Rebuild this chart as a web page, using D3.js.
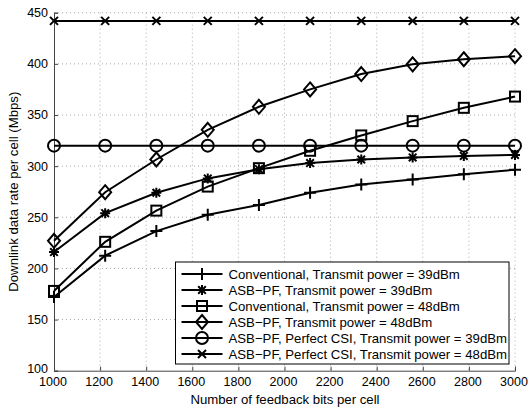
<!DOCTYPE html>
<html><head><meta charset="utf-8">
<script src="https://cdn.jsdelivr.net/npm/d3@7"></script>
<style>body{margin:0;background:#fff;} text{font-family:"Liberation Sans",Arial,sans-serif;}</style>
</head><body><svg id="c" width="529" height="408"></svg>
<script>
const xValues = [1000, 1222, 1444, 1667, 1889, 2111, 2333, 2556, 2778, 3000];
const conv39 = [172, 212.5, 236.5, 252.5, 262, 274, 282, 287, 292, 296.5];
const asb39 = [216, 254, 274, 288, 297, 303, 306.5, 308.5, 310, 311];
const conv48 = [178, 226, 256.5, 280, 298, 315, 330, 344, 357, 368];
const asb48 = [227, 274.5, 306.5, 335.5, 358, 375, 390, 399.5, 404.5, 407.5];
const perf39 = [320, 320, 320, 320, 320, 320, 320, 320, 320, 320];
const perf48 = [442, 442, 442, 442, 442, 442, 442, 442, 442, 442];
const seriesNames = [
  "Conventional, Transmit power = 39dBm",
  "ASB\u2212PF, Transmit power = 39dBm",
  "Conventional, Transmit power = 48dBm",
  "ASB\u2212PF, Transmit power = 48dBm",
  "ASB\u2212PF, Perfect CSI, Transmit power = 39dBm",
  "ASB\u2212PF, Perfect CSI, Transmit power = 48dBm"
];
const markerTypes = ["plus", "star", "square", "diamond", "circle", "cross"];
const xTicks = [1000, 1200, 1400, 1600, 1800, 2000, 2200, 2400, 2600, 2800, 3000];
const yTicks = [100, 150, 200, 250, 300, 350, 400, 450];
const xLabel = "Number of feedback bits per cell";
const yLabel = "Downlink data rate per cell (Mbps)";

const seriesValues = [conv39, asb39, conv48, asb48, perf39, perf48];
const L = 54, R = 515, T = 12.7, B = 370.7;
const svg = d3.select("#c");
const x = d3.scaleLinear().domain([1000, 3000]).range([L, R]);
const y = d3.scaleLinear().domain([100, 450]).range([B, T]);

// grid
const g = svg.append("g");
g.selectAll(".gx").data(xTicks.slice(1)).join("line")
  .attr("x1", d => x(d)).attr("x2", d => x(d)).attr("y1", T).attr("y2", B)
  .attr("stroke", "#aaa").attr("stroke-width", 1).attr("stroke-dasharray", "1,3");
g.selectAll(".gy").data(yTicks.slice(1)).join("line")
  .attr("x1", L).attr("x2", R).attr("y1", d => y(d)).attr("y2", d => y(d))
  .attr("stroke", "#aaa").attr("stroke-width", 1).attr("stroke-dasharray", "1,3");

// axes
const xAxis = svg.append("g").attr("transform", `translate(0,${B})`)
  .call(d3.axisBottom(x).tickValues(xTicks).tickSize(-4).tickPadding(6).tickFormat(d3.format("d")));
const yAxis = svg.append("g").attr("transform", `translate(${L},0)`)
  .call(d3.axisLeft(y).tickValues(yTicks).tickSize(-4).tickPadding(6).tickFormat(d3.format("d")));
[xAxis, yAxis].forEach(a => {
  a.select(".domain").attr("stroke", "#444").attr("stroke-width", 1);
  a.selectAll(".tick line").attr("stroke", "#444");
  a.selectAll("text").attr("font-size", 12.5).attr("fill", "#000")
    .style("font-family", '"Liberation Sans",Arial,sans-serif');
});
xAxis.selectAll("text").attr("dx", -1.5);
yAxis.selectAll(".tick text").filter(d => d === 100).attr("dy", "0.16em");

function marker(sel, type) {
  const s = 5;
  if (type === "plus") {
    sel.append("path").attr("d", `M${-6},0H6M0,${-6}V6`);
  } else if (type === "star") {
    sel.append("path").attr("d", `M-5,0H5M0,-5V5M-3.8,-3.8L3.8,3.8M-3.8,3.8L3.8,-3.8`);
  } else if (type === "square") {
    sel.append("rect").attr("x", -s).attr("y", -s).attr("width", 2 * s).attr("height", 2 * s);
  } else if (type === "diamond") {
    sel.append("path").attr("d", "M0,-7L6,0L0,7L-6,0Z");
  } else if (type === "circle") {
    sel.append("circle").attr("r", 6);
  } else if (type === "cross") {
    sel.append("path").attr("d", "M-4,-4L4,4M-4,4L4,-4");
  }
}

const line = d3.line().x((d, i) => x(xValues[i])).y(d => y(d));
seriesValues.forEach((vals, k) => {
  svg.append("path").datum(vals).attr("d", line)
    .attr("fill", "none").attr("stroke", "#000").attr("stroke-width", 2);
  vals.forEach((v, i) => {
    const m = svg.append("g").attr("transform", `translate(${x(xValues[i])},${y(v)})`)
      .attr("fill", "none").attr("stroke", "#000").attr("stroke-width", 2);
    marker(m, markerTypes[k]);
  });
});

// legend
const lg = svg.append("g");
lg.append("rect").attr("x", 175.5).attr("y", 262).attr("width", 333.5).attr("height", 102)
  .attr("fill", "#fff").attr("stroke", "#000").attr("stroke-width", 1);
seriesNames.forEach((name, k) => {
  const yy = 274 + 16 * k;
  lg.append("line").attr("x1", 181.5).attr("x2", 222.5).attr("y1", yy).attr("y2", yy)
    .attr("stroke", "#000").attr("stroke-width", 2);
  const m = lg.append("g").attr("transform", `translate(202,${yy})`)
    .attr("fill", "none").attr("stroke", "#000").attr("stroke-width", 2);
  marker(m, markerTypes[k]);
  lg.append("text").attr("x", 228.5).attr("y", yy).attr("dy", "0.35em")
    .attr("font-size", 13.2).text(name);
});

svg.append("text").attr("x", 285).attr("y", 403.5).attr("text-anchor", "middle")
  .attr("font-size", 13.2).text(xLabel);
svg.append("text").attr("transform", `translate(17.5,${(T + B) / 2}) rotate(-90)`)
  .attr("text-anchor", "middle").attr("font-size", 13.2).text(yLabel);
</script></body></html>
